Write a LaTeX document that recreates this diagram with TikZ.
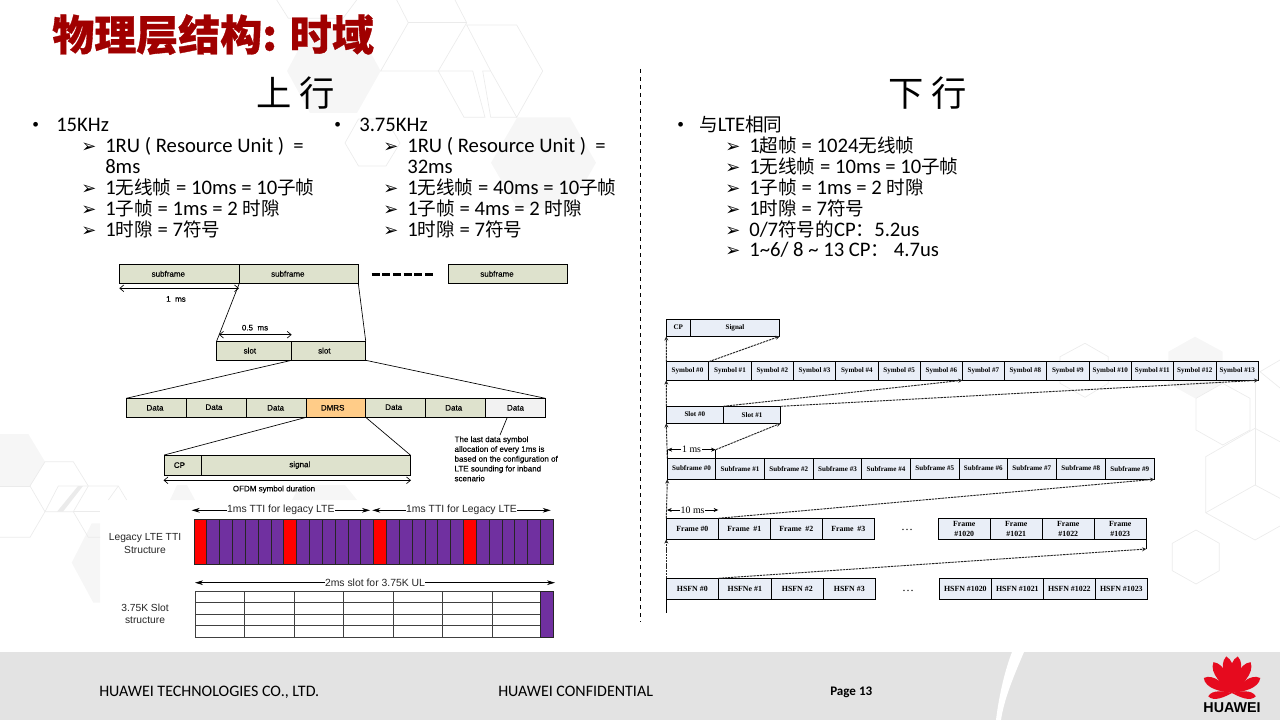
\documentclass[tikz,border=0pt]{standalone}
\usepackage{fontspec}
\setmainfont{Carlito}
\newfontfamily\zhfont[Scale=0.9]{Noto Sans CJK SC}
\newfontfamily\headfont{Noto Sans CJK SC}
\newfontfamily\titlefont[BoldFeatures={FakeBold=0.8}]{Noto Sans CJK SC}
\newfontfamily\figfont{Liberation Sans}
\newfontfamily\figheavy[FakeBold=0.25]{Liberation Sans}
\newfontfamily\serfont{Liberation Serif}
\newfontfamily\bulletfont{DejaVu Sans}
\usetikzlibrary{arrows.meta}
\definecolor{titlered}{HTML}{A00000}
\definecolor{footgray}{HTML}{E3E3E3}
\definecolor{hexline}{HTML}{EBEBEB}
\definecolor{hexfill}{HTML}{F6F6F6}
\definecolor{cellgreen}{HTML}{DEE2CD}
\definecolor{cellgray}{HTML}{F2F2F2}
\definecolor{dmrsorange}{HTML}{FFCC88}
\definecolor{cellblue}{HTML}{E9EEF7}
\definecolor{ttipurple}{HTML}{7030A0}
\definecolor{huaweired}{HTML}{E60A1E}
\def\zh#1{{\zhfont #1}}
\def\cellbox[#1](#2)(#3,#4,#5,#6)#7{\node[#1, minimum width={(#5-#3)*0.75pt}, minimum height={(#6-#4)*0.75pt}] (#2) at ({(#3+#5)/2},{(#4+#6)/2}) {#7};}
\def\petal(#1:#2:#3){\fill[huaweired, shift={(1232,693)}, rotate=#1] (0,0) .. controls (-0.5*#3,-0.3*#2) and (-1.2*#3,-0.8*#2) .. (0,-#2) .. controls (1.2*#3,-0.8*#2) and (0.5*#3,-0.3*#2) .. (0,0);}
\tikzset{
	heading/.style={inner sep=0, font=\headfont\fontsize{26.5}{30}\selectfont},
	bodytext/.style={anchor=base west, inner sep=0, font=\fontsize{15.5}{17}\selectfont},
	tipmark/.style={anchor=base west, inner sep=0, font=\bulletfont\fontsize{13.5}{15}\selectfont},
	dotmark/.style={anchor=base west, inner sep=0, font=\fontsize{10}{12}\selectfont},
	foottext/.style={anchor=base west, inner sep=0, font=\fontsize{12}{14}\selectfont},
	hexedge/.style={draw=hexline, line width=0.5pt},
	hexflat/.style={fill=hexfill},
	figcell/.style={draw=black, line width=0.6pt, inner sep=0, outer sep=0, align=center, font=\figheavy\fontsize{6}{7}\selectfont},
	rowcell/.style={draw=black, line width=0.7pt, fill=cellblue, inner sep=0, outer sep=0, align=center, font=\serfont\bfseries\fontsize{5.3}{6.6}\selectfont},
	widecell/.style={rowcell, font=\serfont\bfseries\fontsize{5.9}{7.2}\selectfont},
	figlabel/.style={inner sep=0, font=\figheavy\fontsize{6}{7}\selectfont},
	graylabel/.style={inner sep=0, align=center, text=black!85, font=\figfont\fontsize{7.7}{9.3}\selectfont},
	ttilabel/.style={inner sep=0.3pt, fill=white, text=black!85, font=\figfont\fontsize{7.8}{9}\selectfont},
	msarrow/.style={line width=0.5pt, {Straight Barb[length=3pt,width=5pt]}-{Straight Barb[length=3pt,width=5pt]}},
	ttiarrow/.style={line width=0.5pt, {Stealth[length=6pt,width=3.5pt]}-{Stealth[length=6pt,width=3.5pt]}},
	flowarrow/.style={line width=0.7pt, black!85, dash pattern=on 1.8pt off 0.6pt, -{Stealth[length=3.2pt,width=3pt]}},
	rowarrow/.style={line width=0.5pt, {Stealth[length=3.5pt,width=3pt]}-{Stealth[length=3.5pt,width=3pt]}},
	rowlabel/.style={inner sep=0.5pt, fill=white, font=\serfont\fontsize{7.4}{9}\selectfont},
	rowdots/.style={anchor=base, inner sep=0, font=\serfont\fontsize{9}{10}\selectfont},
}
\begin{document}
\begin{tikzpicture}[x=0.75pt, y=-0.75pt]
			\useasboundingbox (0, 0) rectangle (1280, 720);
			%%%%% BACKGROUND %%%%%
			
			\fill[hexflat] (287, 71) -- (310, 28) -- (357, 28) -- (380.7, 71) -- (357, 113) -- (310, 113) -- cycle;
			\fill[hexflat] (491, 162.7) -- (517.3, 117.3) -- (570, 117.3) -- (596, 162.7) -- (570, 208.3) -- (517.3, 208.3) -- cycle;
			\fill[hexflat] (0, 434) -- (28.3, 434) -- (45, 461.7) -- (30, 486) -- (0, 486) -- cycle;
			\fill[hexflat] (100, 523.3) -- (91.7, 523.3) -- (71.7, 562.7) -- (93.3, 602.7) -- (100, 602.7) -- cycle;
			\fill[hexflat] (170, 500) -- (177, 485) -- (187, 485) -- (195, 500) -- cycle;
			\fill[hexflat] (292, 500) -- (300, 485) -- (345, 485) -- (357, 500) -- cycle;
			\fill[hexflat] (1168.3, 351.7) -- (1195, 336.7) -- (1222.7, 351.7) -- (1222.7, 383.3) -- (1195, 398.3) -- (1168.3, 383.3) -- cycle;
			\fill[black!8] (78, 486) -- (83, 486) -- (63, 511.7) -- (57, 511.7) -- cycle;
			
			\draw[hexedge] (276.7, 0) -- (288.3, 18.3) -- (343, 18.3) -- (356.7, 0);
			\draw[hexedge] (396.7, 0) -- (408.3, 22.7) -- (380.7, 71) -- (438.3, 71) -- (466.7, 22.7) -- (455, 0);
			\draw[hexedge] (408.3, 22.7) -- (466.7, 22.7);
			\draw[hexedge] (466.7, 25) -- (516.7, 25) -- (542.7, 71) -- (516.7, 117.3) -- (490.7, 71) -- cycle;
			\draw[hexedge] (438.3, 71) -- (472.7, 71) -- (485, 117.3) -- (464, 117.3) -- cycle;
			\draw[hexedge] (490.7, 71) -- (482.7, 71) -- (490.7, 117.3) -- (516.7, 117.3);
			\draw[hexedge] (345, 143) -- (358.5, 119) -- (386, 119) -- (400, 143) -- (386, 166) -- (358.5, 166) -- cycle;
			\draw[hexedge] (45, 461.7) -- (73.3, 461.7) -- (88.3, 486) -- (73.3, 511.7) -- (45, 511.7) -- (30, 486) -- cycle;
			\draw[hexedge] (0, 486) -- (30, 486);
			\draw[hexedge] (0, 537.3) -- (30, 537.3) -- (45, 511.7);
			\draw[hexedge] (45, 511.7) -- (58.3, 486) -- (88.3, 486) -- (118.3, 486) -- (126.7, 500);
			\draw[hexedge] (73.3, 511.7) -- (100, 511.7);
			\draw[hexedge] (73.3, 511.7) -- (88.3, 537.3) -- (100, 537.3);
			\draw[hexedge] (118.3, 486) -- (108.3, 500);
			\draw[hexedge] (1060, 356.7) -- (1085, 343.3) -- (1108.3, 356.7) -- (1108.3, 383.3) -- (1085, 397.3) -- (1060, 383.3) -- cycle;
			\draw[hexedge] (1196, 398.3) -- (1222.7, 383.3) -- (1250, 398.3) -- (1250, 430) -- (1222.7, 445) -- (1196, 430) -- cycle;
			\draw[hexedge] (1255, 380) -- (1255, 485);
			\draw[hexedge] (1280, 441.7) -- (1255, 428.3) -- (1205.7, 456.7) -- (1205.7, 512.7) -- (1255, 540) -- (1280, 526);
			\draw[hexedge] (1205.7, 512.7) -- (1255, 485) -- (1280, 498.3);
			\draw[hexedge] (1280, 360) -- (1260, 371.7) -- (1280, 388);
			\draw[hexedge] (1172.3, 543.3) -- (1196, 530) -- (1219.3, 543.3) -- (1219.3, 570.7) -- (1196, 584) -- (1172.3, 570.7) -- cycle;
			
			\fill[footgray] (0, 652) rectangle (1280, 720);
			\fill[white] (1012, 652) -- (1024, 652) .. controls (1012, 680) and (1004, 700) .. (1001, 720) -- (996, 720) .. controls (999, 695) and (1005, 670) .. (1012, 652);
			
			%%%%% TEXT %%%%%
			
			\node[anchor=base west, inner sep=0, text=titlered, font=\titlefont\bfseries\fontsize{31.5}{34}\selectfont] (title) at (52, 50.5) {物理层结构: 时域};
			\node[heading] (uphead) at (296, 93.5) {上 行};
			\node[heading] (downhead) at (928, 93.5) {下 行};
			\draw[dashed, line width=0.6pt] (640.5, 69) -- (640.5, 622);
			
			\node[dotmark] (dot15) at (32, 129) {•};
			\node[bodytext] (head15) at (56, 132) {15KHz};
			\foreach \n/\y in {a/153, c/195, d/215.5, e/236.5}
				\node[tipmark] (tip15\n) at (81, \y) {➢};
			\node[bodytext] (ru15) at (105, 153) {1RU\ (\ Resource Unit\ )\ \ =};
			\node[bodytext] (ms15) at (105, 174) {8ms};
			\node[bodytext] (radio15) at (105, 195) {1\zh{无线帧} = 10ms = 10\zh{子帧}};
			\node[bodytext] (sub15) at (105, 215.5) {1\zh{子帧} = 1ms = 2 \zh{时隙}};
			\node[bodytext] (slot15) at (105, 236.5) {1\zh{时隙} = 7\zh{符号}};
			
			\node[dotmark] (dot375) at (334, 129) {•};
			\node[bodytext] (head375) at (359, 132) {3.75KHz};
			\foreach \n/\y in {a/153, c/195, d/215.5, e/236.5}
				\node[tipmark] (tip375\n) at (383, \y) {➢};
			\node[bodytext] (ru375) at (407, 153) {1RU\ (\ Resource Unit\ )\ \ =};
			\node[bodytext] (ms375) at (407, 174) {32ms};
			\node[bodytext] (radio375) at (407, 195) {1\zh{无线帧} = 40ms = 10\zh{子帧}};
			\node[bodytext] (sub375) at (407, 215.5) {1\zh{子帧} = 4ms = 2 \zh{时隙}};
			\node[bodytext] (slot375) at (407, 236.5) {1\zh{时隙} = 7\zh{符号}};
			
			\node[dotmark] (dotlte) at (677, 129) {•};
			\node[bodytext] (headlte) at (699, 132) {\zh{与}LTE\zh{相同}};
			\foreach \n/\y in {a/153, b/174, c/195, d/215.5, e/236.5, f/257}
				\node[tipmark] (tiplte\n) at (725, \y) {➢};
			\node[bodytext] (superlte) at (749, 153) {1\zh{超帧} = 1024\zh{无线帧}};
			\node[bodytext] (radiolte) at (749, 174) {1\zh{无线帧} = 10ms = 10\zh{子帧}};
			\node[bodytext] (sublte) at (749, 195) {1\zh{子帧} = 1ms = 2 \zh{时隙}};
			\node[bodytext] (slotlte) at (749, 215.5) {1\zh{时隙} = 7\zh{符号}};
			\node[bodytext] (cpalte) at (749, 236.5) {0/7\zh{符号的}CP\zh{：}5.2us};
			\node[bodytext] (cpblte) at (749, 257) {1\textasciitilde 6/ 8 \textasciitilde\ 13 CP\zh{：}\ 4.7us};
			
			%%%%% UPLINK FIGURE %%%%%
			
			\cellbox[figcell, fill=cellgreen](subf1)(119.3,264.3,239.3,283.3){subframe\hspace*{16.5pt}}
			\cellbox[figcell, fill=cellgreen](subf2)(239.3,264.3,358.3,283.3){subframe\hspace*{16.5pt}}
			\cellbox[figcell, fill=cellgreen](subf3)(448.3,264.3,567.7,283.3){subframe\hspace*{16.5pt}}
			\draw[line width=2.2pt, dash pattern=on 6pt off 2pt] (371.7, 274.3) -- (433, 274.3);
			
			\cellbox[figcell, fill=cellgreen](slot1)(216.7,341,291.7,360.3){slot\hspace*{6.5pt}}
			\cellbox[figcell, fill=cellgreen](slot2)(291.7,341,365.7,360.3){slot\hspace*{6.5pt}}
			\draw[line width=0.5pt] (subf1.south east) -- (slot1.north west);
			\draw[line width=0.5pt] (subf2.south east) -- (slot2.north east);
			
			\coordinate (msa) at (119.3, 288.3);
			\coordinate (msb) at (239, 288.3);
			\draw[msarrow] (msa) -- (msb);
			\node[figlabel] (mslabel) at (176, 299) {1\ \ ms};
			\coordinate (hma) at (219, 334.7);
			\coordinate (hmb) at (291.7, 334.7);
			\draw[msarrow] (hma) -- (hmb);
			\node[figlabel] (hmlabel) at (255, 327.7) {0.5\ \ ms};
			
			\foreach \n/\xa/\xb/\lab/\fillc/\dy/\dx in {1/126.3/186.3/Data/cellgreen/0/2, 2/186.3/246.3/Data/cellgreen/1/3.5, 3/246.3/306.3/Data/cellgreen/0/1, 4/306.3/365.7/DMRS/dmrsorange/0/5, 5/365.7/425.7/Data/cellgreen/1/3, 6/425.7/485.7/Data/cellgreen/0/3, 7/485.7/545.3/Data/cellgray/0/0} {
				\cellbox[figcell, fill=\fillc](data\n)(\xa,398.3,\xb,417.3){\raisebox{\dy pt}{\lab}\hspace*{\dx pt}}
			}
			\draw[line width=0.5pt] (slot1.south east) -- (data1.north west);
			\draw[line width=0.5pt] (slot2.south east) -- (data7.north east);
			
			\cellbox[figcell, fill=cellgreen](cpcell)(164.3,455,201.3,475.3){CP\hspace*{5pt}}
			\cellbox[figcell, fill=cellgreen](sigcell)(201.3,455,410.3,475.3){signal\hspace*{9pt}}
			\draw[line width=0.5pt] (data3.south east) -- (cpcell.north west);
			\draw[line width=0.5pt] (data4.south east) -- (sigcell.north east);
			\coordinate (ofa) at (163.5, 480.3);
			\coordinate (ofb) at (411, 480.3);
			\draw[msarrow] (ofa) -- (ofb);
			\node[figlabel] (oflabel) at (274, 489.3) {OFDM symbol duration};
			
			\node[anchor=north west, inner sep=0, align=left, font=\figheavy\fontsize{6}{7.35}\selectfont] (note) at (454.3, 436) {The last data symbol\\allocation of every 1ms is\\based on the configuration of\\LTE sounding for inband\\scenario};
			\coordinate (notefoot) at (507.3, 417.3);
			\coordinate (notehead) at (500, 435);
			\draw[line width=0.5pt] (notefoot) -- (notehead);
			
			\coordinate (ttia) at (191.7, 510.3);
			\coordinate (ttib) at (370, 510.3);
			\coordinate (ttic) at (372.3, 510.3);
			\coordinate (ttid) at (550.7, 510.3);
			\draw[ttiarrow] (ttia) -- node[ttilabel] (ttilab1) {1ms TTI for legacy LTE} (ttib);
			\draw[ttiarrow] (ttic) -- node[ttilabel] (ttilab2) {1ms TTI for Legacy LTE} (ttid);
			\foreach \i in {0,...,27} {
				\pgfmathtruncatemacro{\ired}{mod(\i,7)==0}
				\ifnum\ired=1 \def\barc{red}\else \def\barc{ttipurple}\fi
				\draw[fill=\barc, line width=0.6pt, draw=black!85] ({194+\i*12.83}, 519.3) rectangle ({194+(\i+1)*12.83}, 564.7);
			}
			\node[graylabel] (legacyname) at (145, 543.5) {Legacy LTE TTI\\Structure};
			
			\coordinate (sla) at (195, 582.7);
			\coordinate (slb) at (555, 582.7);
			\draw[ttiarrow] (sla) -- node[ttilabel] (slotlab) {2ms slot for 3.75K UL} (slb);
			\draw[line width=0.6pt, black!75] (195.3, 591.7) rectangle (553.3, 637);
			\foreach \y in {602.7, 614.3, 625.7}
				\draw[line width=0.6pt, black!75] (195.3, \y) -- (540.7, \y);
			\foreach \x in {244.7, 294, 343.7, 393.3, 442.7, 492}
				\draw[line width=0.6pt, black!75] (\x, 591.7) -- (\x, 637);
			\draw[fill=ttipurple, line width=0.6pt, draw=black!85] (540.7, 591.7) rectangle (553.3, 637);
			\node[graylabel] (slotname) at (145, 614) {3.75K Slot\\structure};
			
			%%%%% DOWNLINK FIGURE %%%%%
			
			\cellbox[rowcell](cpbox)(666.3,319.3,690.3,336.3){\raisebox{0.5pt}{CP}}
			\cellbox[rowcell](sigbox)(690.3,319.3,779.7,336.3){\raisebox{-1.2pt}{Signal}}
			
			\foreach \n/\xa/\xb/\dy in {0/666.3/708.7/1, 1/708.7/751.3/-1, 2/751.3/793.3/-1, 3/793.3/835.7/0, 4/835.7/878/0, 5/878/920.3/0, 6/920.3/962.5/0, 7/962.5/1004.3/1, 8/1004.3/1046.3/-1, 9/1046.3/1089.3/-1, 10/1089.3/1131.3/0, 11/1131.3/1173.3/0, 12/1173.3/1216.3/0, 13/1216.3/1258.3/0} {
				\cellbox[rowcell](sym\n)(\xa,361.7,\xb,380.3){\raisebox{\dy pt}{Symbol \#\n}}
			}
			
			\cellbox[rowcell](slotz)(666.3,406.3,723.3,423.3){\raisebox{0.5pt}{Slot \#0}}
			\cellbox[rowcell](slotw)(723.3,406.3,780.7,423.3){\raisebox{-1.2pt}{Slot \#1}}
			
			\foreach \n/\xa/\xb/\dy in {0/667.3/715.7/1, 1/715.7/764.3/-1, 2/764.3/813.3/-1, 3/813.3/861.7/-1, 4/861.7/910.3/-1, 5/910.3/959.3/1, 6/959.3/1007.3/1, 7/1007.3/1056.3/1, 8/1056.3/1105.3/1, 9/1105.3/1154.3/-1} {
				\cellbox[rowcell](sfm\n)(\xa,458.3,\xb,479.3){\raisebox{\dy pt}{Subframe \#\n}}
			}
			
			\foreach \n/\xa/\xb/\lab in {0/666.3/718.3/Frame \#0, 1/718.3/770.3/Frame\ \ \#1, 2/770.3/822.3/Frame\ \ \#2, 3/822.3/874.3/Frame\ \ \#3, 4/938.3/990.3/Frame\\\#1020, 5/990.3/1042.3/Frame\\\#1021, 6/1042.3/1094.3/Frame\\\#1022, 7/1094.3/1146.3/Frame\\\#1023} {
				\cellbox[widecell](frm\n)(\xa,518.3,\xb,539.3){\lab}
			}
			\node[rowdots] (frmdots) at (907, 530) {…};
			
			\foreach \n/\xa/\xb/\lab in {0/666.3/718.3/HSFN \#0, 1/718.3/771.3/HSFNe\ \#1, 2/771.3/823.3/HSFN\ \#2, 3/823.3/875.3/HSFN\ \#3, 4/939.3/991.3/HSFN\ \#1020, 5/991.3/1043.3/HSFN\ \#1021, 6/1043.3/1095.3/HSFN\ \#1022, 7/1095.3/1147.3/HSFN\ \#1023} {
				\cellbox[widecell](hsf\n)(\xa,578.3,\xb,599.3){\lab}
			}
			\node[rowdots] (hsfdots) at (908, 591) {…};
			
			\draw[flowarrow] (sym0.north west) -- (cpbox.south west);
			\draw[flowarrow] (sym0.north east) -- (sigbox.south east);
			\draw[flowarrow] (slotz.north west) -- (sym0.south west);
			\draw[flowarrow] (slotz.north east) -- (sym6.south east);
			\draw[flowarrow] (slotw.north east) -- (sym13.south east);
			\draw[flowarrow] (sfm0.north west) -- (slotz.south west);
			\coordinate (onea) at (667.5, 449.7);
			\coordinate (oneb) at (715.7, 449.7);
			\draw[line width=0.5pt] (onea) -- (sfm0.north west);
			\draw[line width=0.5pt] (oneb) -- (sfm0.north east);
			\draw[rowarrow] (onea) -- node[rowlabel] (onelab) {1 ms} (oneb);
			\draw[flowarrow] (oneb) -- (slotw.south east);
			\draw[flowarrow] (frm0.north west) -- (sfm0.south west);
			\draw[flowarrow] (frm1.north west) -- (sfm9.south east);
			\coordinate (tena) at (667, 510);
			\coordinate (tenb) at (718.3, 510);
			\draw[rowarrow] (tena) -- node[rowlabel] (tenlab) {10 ms} (tenb);
			\draw[flowarrow] (hsf0.north west) -- (frm0.south west);
			\coordinate (frmend) at (1146.3, 549);
			\draw[line width=0.5pt] (frm7.south east) -- (frmend);
			\draw[flowarrow] (hsf1.north west) -- (frmend);
			\coordinate (hsfend) at (666.3, 612.7);
			\draw[line width=0.7pt] (hsf0.south west) -- (hsfend);
			
			%%%%% FOOTER %%%%%
			
			\node[foottext] (company) at (99, 696.5) {HUAWEI TECHNOLOGIES CO., LTD.};
			\node[foottext] (secret) at (498, 696.5) {HUAWEI CONFIDENTIAL};
			\node[anchor=base west, inner sep=0, font=\bfseries\fontsize{9.8}{12}\selectfont] (pagenum) at (830, 695) {Page 13};
			
			\foreach \a/\l/\w in {9/37/8, -9/37/8, 31/36/8, -31/36/8, 62/32/7.5, -62/32/7.5, 98/24/5.5, -98/24/5.5} {
				\petal(\a:\l:\w)
			}
			\node[inner sep=0, font=\figfont\bfseries\fontsize{10.7}{12}\selectfont] (logotext) at (1232, 708) {HUAWEI};
			
			%%%%% END %%%%%
\end{tikzpicture}
\end{document}
